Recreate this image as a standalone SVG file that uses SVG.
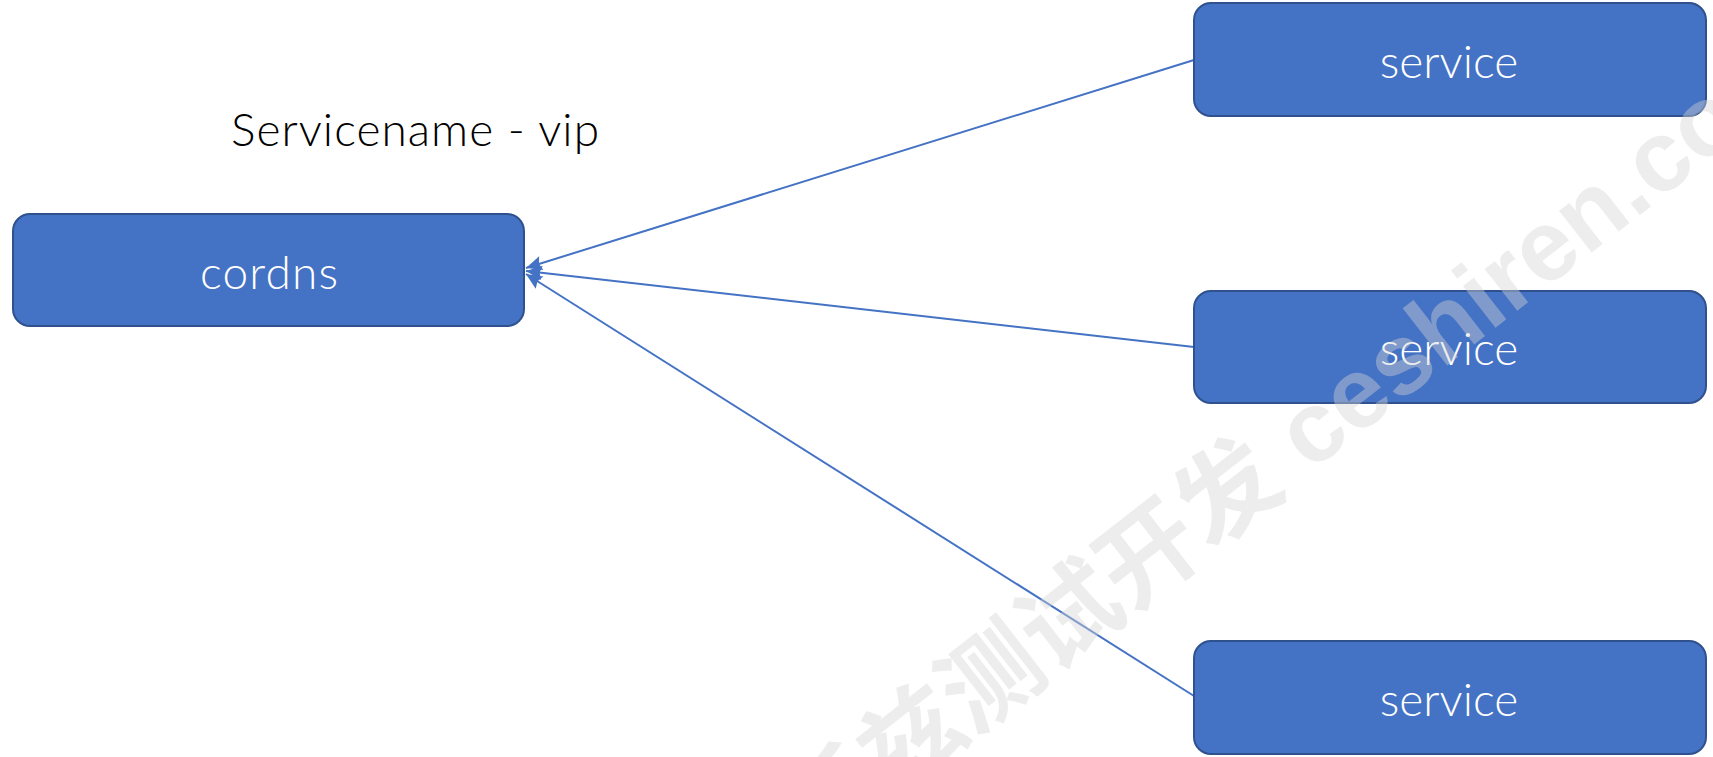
<svg xmlns="http://www.w3.org/2000/svg" width="1713" height="757" viewBox="0 0 1713 757">
  <style>
    .box { fill: #4472C4; stroke: #2F528F; stroke-width: 2; }
    .lbl { fill: #FFFFFF; font-family: Lato, "Open Sans", "Liberation Sans", sans-serif; font-weight: 300; font-size: 46px; text-anchor: middle; }
    .note { fill: #000000; font-family: Lato, "Open Sans", "Liberation Sans", sans-serif; font-weight: 300; font-size: 46px; }
    .edge { stroke: #4472C4; stroke-width: 2; fill: none; marker-end: url(#arrow); }
    .wm { fill: #D3D3D3; fill-opacity: 0.42; font-family: "Liberation Sans", "Noto Sans CJK SC", sans-serif; font-weight: bold; font-size: 100px; }
  </style>
  <defs>
    <!-- filled arrowhead, tip sits on the line end -->
    <marker id="arrow" viewBox="0 0 10 10" refX="10" refY="5" markerWidth="16" markerHeight="16" orient="auto" markerUnits="userSpaceOnUse" overflow="visible">
      <path d="M0,0.5 L10,5 L0,9.5 L1.5,5 Z" fill="#4472C4"/>
    </marker>
  </defs>
  <rect width="1713" height="757" fill="#FFFFFF"/>

  <g id="connectors">
    <line class="edge" x1="1194" y1="60" x2="526" y2="268"/>
    <line class="edge" x1="1194" y1="347" x2="526" y2="271"/>
    <line class="edge" x1="1194" y1="696" x2="526" y2="274"/>
  </g>

  <g id="node-cordns">
    <rect class="box" x="13" y="214" width="511" height="112" rx="17"/>
    <text class="lbl" x="269" y="289" textLength="138">cordns</text>
  </g>
  <g id="node-service-1">
    <rect class="box" x="1194" y="3" width="512" height="113" rx="17"/>
    <text class="lbl" x="1449" y="78">service</text>
  </g>
  <g id="node-service-2">
    <rect class="box" x="1194" y="291" width="512" height="112" rx="17"/>
    <text class="lbl" x="1449" y="365">service</text>
  </g>
  <g id="node-service-3">
    <rect class="box" x="1194" y="641" width="512" height="113" rx="17"/>
    <text class="lbl" x="1449" y="716">service</text>
  </g>

  <g id="label-vip">
    <text class="note" x="231" y="146" textLength="368">Servicename - vip</text>
  </g>

  <text class="wm" transform="translate(658,982) rotate(-38)">霍格沃兹测试开发 ceshiren.com</text>
</svg>
